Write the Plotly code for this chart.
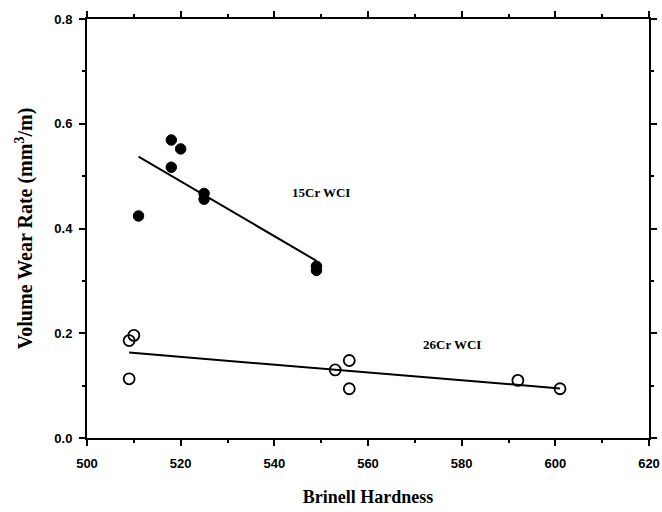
import numpy as np
import plotly.graph_objects as go

# Brinell hardness vs volume wear rate for two white cast irons
hb_15cr = [511, 518, 520, 518, 525, 525, 549, 549]
wear_15cr = [0.424, 0.569, 0.552, 0.517, 0.467, 0.456, 0.328, 0.320]

hb_26cr = [509, 510, 509, 553, 556, 556, 592, 601]
wear_26cr = [0.186, 0.196, 0.113, 0.130, 0.148, 0.094, 0.110, 0.094]

x_ticks = [500, 520, 540, 560, 580, 600, 620]
y_ticks = [0.0, 0.2, 0.4, 0.6, 0.8]

serif = "Liberation Serif, Times New Roman, serif"
tick_font = dict(family="Liberation Sans Narrow, Liberation Sans, Arial", size=13, color="black")


def fit_line(x, y):
    slope, intercept = np.polyfit(x, y, 1)
    xs = np.array([min(x), max(x)])
    return xs, slope * xs + intercept


fig = go.Figure()

for x, y in ((hb_15cr, wear_15cr), (hb_26cr, wear_26cr)):
    fx, fy = fit_line(x, y)
    fig.add_trace(go.Scatter(x=fx, y=fy, mode="lines",
                             line=dict(color="black", width=2),
                             showlegend=False, hoverinfo="skip"))

fig.add_trace(go.Scatter(x=hb_15cr, y=wear_15cr, mode="markers", name="15Cr WCI",
                         marker=dict(symbol="circle", size=10.5, color="black",
                                     line=dict(color="black", width=1))))
fig.add_trace(go.Scatter(x=hb_26cr, y=wear_26cr, mode="markers", name="26Cr WCI",
                         marker=dict(symbol="circle-open", size=11, color="black",
                                     line=dict(color="black", width=1.8))))

fig.add_annotation(x=550, y=0.468, text="<b>15Cr WCI</b>", showarrow=False,
                   font=dict(family=serif, size=13, color="black"))
fig.add_annotation(x=578, y=0.178, text="<b>26Cr WCI</b>", showarrow=False,
                   font=dict(family=serif, size=13, color="black"))

axis_common = dict(
    showline=True, linecolor="black", linewidth=2, mirror="ticks",
    ticks="outside", ticklen=6, tickwidth=2, tickcolor="black",
    showgrid=False, zeroline=False, tickfont=tick_font,
)

fig.update_xaxes(
    range=[500, 620], tickvals=x_ticks, ticktext=[f"<b>{v}</b>" for v in x_ticks],
    ticklabelstandoff=6,
    minor=dict(dtick=10, ticks="outside", ticklen=3, tickwidth=1.5, tickcolor="black"),
    title=dict(text="<b>Brinell Hardness</b>", font=dict(family=serif, size=18, color="black"),
               standoff=21),
    **axis_common,
)
fig.update_yaxes(
    range=[0, 0.8], tickvals=y_ticks, ticktext=[f"<b>{v:.1f}</b>" for v in y_ticks],
    ticklabelstandoff=4,
    minor=dict(dtick=0.1, ticks="outside", ticklen=3, tickwidth=1.5, tickcolor="black"),
    title=dict(text="<b>Volume Wear Rate (mm<sup>3</sup>/m)</b>",
               font=dict(family=serif, size=20, color="black"), standoff=16),
    **axis_common,
)

fig.update_layout(
    width=662, height=512,
    margin=dict(l=87, r=13, t=19, b=74, autoexpand=False),
    paper_bgcolor="white", plot_bgcolor="white",
    showlegend=False,
)

fig.write_html("out.html")
